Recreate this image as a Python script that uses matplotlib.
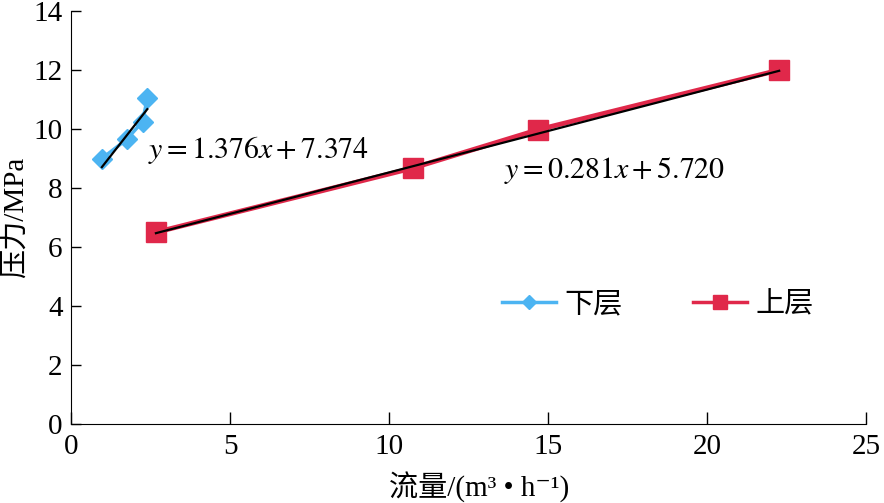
import numpy as np
import matplotlib
matplotlib.use('Agg')
import matplotlib.pyplot as plt

plt.rcParams['font.family'] = ['Liberation Serif', 'Noto Sans CJK SC', 'DejaVu Sans']
plt.rcParams['mathtext.fontset'] = 'stix'

# 下层 data
flow_lower = [0.97, 1.75, 2.25, 2.40]
press_lower = [9.0, 9.65, 10.25, 11.05]
# 上层 data
flow_upper = [2.67, 10.75, 14.69, 22.26]
press_upper = [6.5, 8.68, 9.98, 12.0]
# fits
fit_lower = (1.376, 7.374)
fit_upper = (0.281, 5.720)

blue = '#4cb4f2'
red = '#e0284a'

fig = plt.figure(figsize=(8.84, 5.03), dpi=100)
ax = fig.add_axes([0.0803, 0.157, 0.8997, 0.821])

ax.plot(flow_lower, press_lower, color=blue, marker='D', markersize=10,
        linewidth=2.5, label='下层')
ax.plot(flow_upper, press_upper, color=red, marker='s', markersize=14,
        linewidth=3.5, label='上层')

xl = np.array([flow_lower[0], flow_lower[-1]])
ax.plot(xl, fit_lower[0] * xl + fit_lower[1], color='black', linewidth=1.6)
xu = np.array([flow_upper[0], flow_upper[-1]])
ax.plot(xu, fit_upper[0] * xu + fit_upper[1], color='black', linewidth=1.6)

ax.text(2.42, 9.3, r'$y = 1.376x + 7.374$', fontsize=21.5, va='center', ha='left')
ax.text(13.6, 8.6, r'$y = 0.281x + 5.720$', fontsize=21.5, va='center', ha='left')

ax.set_xlim(0, 25)
ax.set_ylim(0, 14)
ax.set_xticks([0, 5, 10, 15, 20, 25])
ax.set_yticks([0, 2, 4, 6, 8, 10, 12, 14])
ax.spines['top'].set_visible(False)
ax.spines['right'].set_visible(False)
ax.tick_params(axis='x', direction='in', length=9, width=1, labelsize=21, pad=7)
ax.tick_params(axis='y', direction='in', length=7, width=1, labelsize=21, pad=6)

ax.set_xlabel('流量/(m³ • h⁻¹)', fontsize=21, labelpad=3)
ax.xaxis.set_label_coords(0.513, -0.115)
ax.set_ylabel('压力/MPa', fontsize=21, labelpad=3)

leg = ax.legend(loc='center', bbox_to_anchor=(0.738, 0.288), ncol=2, frameon=False,
                fontsize=21, handlelength=1.85, columnspacing=2.4, handletextpad=0.3,
                markerscale=0.75)
for h in leg.get_lines():
    h.set_linewidth(2.5)

fig.savefig('out.png', dpi=100)
